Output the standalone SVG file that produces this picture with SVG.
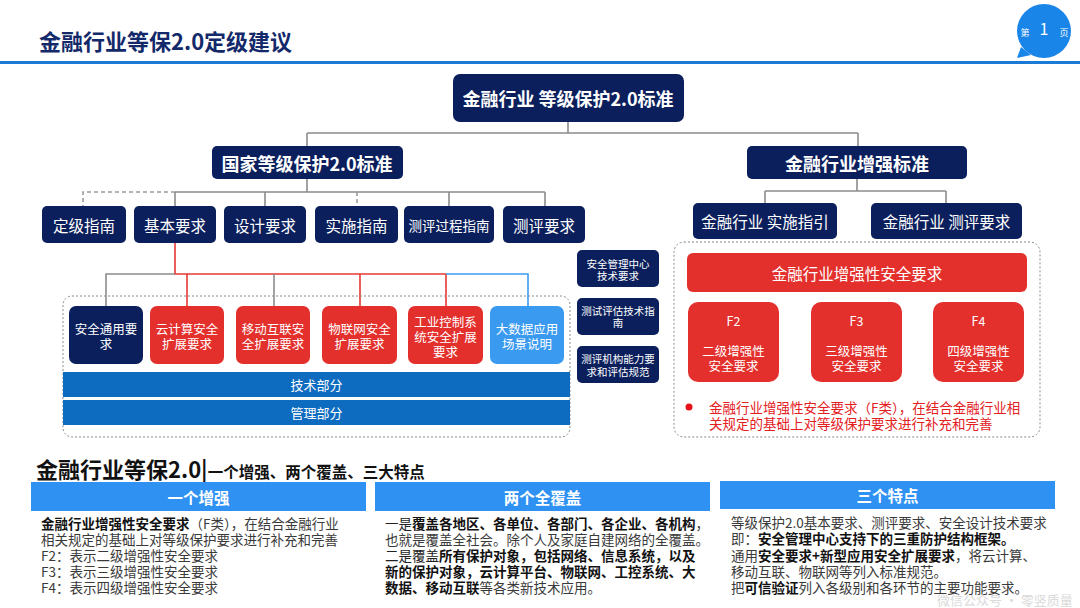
<svg xmlns="http://www.w3.org/2000/svg" width="1080" height="608" viewBox="0 0 1080 608">
<style>
text{font-family:"Noto Sans CJK SC","Noto Sans",sans-serif}
.nv{fill:#0b1f5c}
.rd{fill:#e3302d}
.lb{fill:#3a9af0}
.band{fill:#0e6cc0}
.hb{fill:#2f92f2}
.w{fill:#fff;text-anchor:middle;dominant-baseline:central}
.b{font-weight:bold}
.g{stroke:#8c8c8c;stroke-width:1.6;fill:none}
.gd{stroke:#9a9a9a;stroke-width:1.6;fill:none;stroke-dasharray:4 3}
.r{stroke:#e53935;stroke-width:1.6;fill:none}
.bl{stroke:#3c9cf0;stroke-width:1.6;fill:none}
.box{fill:none;stroke:#8a8a8a;stroke-width:1;stroke-dasharray:2 2}
.body{font-size:13.5px;fill:#3a3a3a;dominant-baseline:central}
.bd{font-weight:bold;fill:#111}
</style>
<rect width="1080" height="608" fill="#fff"/>

<g id="header">
<text x="39" y="50" font-size="22" font-weight="bold" fill="#13296a">金融行业等保2.0定级建议</text>
<rect x="0" y="61" width="1080" height="3" fill="#1a7ad6"/>
<path d="M1021,47 L1017,58 L1031,55 Z" fill="#1a85e8"/>
<circle cx="1044" cy="31" r="27" fill="#1a85e8"/>
<text x="1025" y="32" font-size="9" fill="#fff" text-anchor="middle" dominant-baseline="central">第</text>
<text x="1044" y="28" font-size="16" fill="#fff" text-anchor="middle" dominant-baseline="central" font-family="Roboto,sans-serif">1</text>
<text x="1064" y="32" font-size="9" fill="#fff" text-anchor="middle" dominant-baseline="central">页</text>
</g>

<g id="connectors">
<path class="g" d="M568,122 V133 M307,133 H858 M307,133 V146 M858,133 V146"/>
<path class="g" d="M307,178 V192 M175,192 H545 M175,192 V206 M265,192 V206 M449,192 V206 M545,192 V206"/>
<path class="gd" d="M175,192 H83 V206 M357,192 V206"/>
<path class="g" d="M857,178 V191 M765,191 H946 M765,191 V203 M946,191 V203"/>
<path class="r" d="M175,243 V274 H446 M187,274 V306 M360,274 V306 M446,274 V306"/>
<path class="g" d="M175,274 H106 V306 M274,274 V306"/>
<path class="bl" d="M446,274 H528 V306"/>
</g>

<g id="top-node">
<rect class="nv" x="453" y="74" width="231" height="48" rx="7"/>
<text class="w b" x="568" y="98" font-size="18">金融行业 等级保护2.0标准</text>
</g>
<g id="node-national">
<rect class="nv" x="212" y="146" width="191" height="33" rx="5"/>
<text class="w b" x="307" y="162.5" font-size="18">国家等级保护2.0标准</text>
</g>
<g id="node-finance">
<rect class="nv" x="747" y="146" width="220" height="33" rx="5"/>
<text class="w b" x="857" y="162.5" font-size="18">金融行业增强标准</text>
</g>

<g id="n-dingji"><rect class="nv" x="42" y="206" width="84" height="37" rx="5"/><text class="w" x="84" y="224.5" font-size="15.5">定级指南</text></g>
<g id="n-jiben"><rect class="nv" x="134" y="206" width="82" height="37" rx="5"/><text class="w" x="175" y="224.5" font-size="15.5">基本要求</text></g>
<g id="n-sheji"><rect class="nv" x="224" y="206" width="82" height="37" rx="5"/><text class="w" x="265" y="224.5" font-size="15.5">设计要求</text></g>
<g id="n-shishi"><rect class="nv" x="315" y="206" width="83" height="37" rx="5"/><text class="w" x="356.5" y="224.5" font-size="15.5">实施指南</text></g>
<g id="n-guocheng"><rect class="nv" x="404" y="206" width="90" height="37" rx="5"/><text class="w" x="449" y="224.5" font-size="13.5">测评过程指南</text></g>
<g id="n-ceping"><rect class="nv" x="503" y="206" width="82" height="37" rx="5"/><text class="w" x="544" y="224.5" font-size="15.5">测评要求</text></g>

<g id="n-f-shishi"><rect class="nv" x="693" y="203" width="144" height="36" rx="5"/><text class="w" x="765" y="221" font-size="15.5">金融行业 实施指引</text></g>
<g id="n-f-ceping"><rect class="nv" x="871" y="203" width="151" height="36" rx="5"/><text class="w" x="946.5" y="221" font-size="15.5">金融行业 测评要求</text></g>

<g id="basic-container">
<rect class="box" x="63" y="296" width="507" height="141" rx="9"/>
</g>
<g id="r-tongyong"><rect class="nv" x="69" y="306" width="74" height="58" rx="7"/><text class="w" font-size="12.5"><tspan x="106" y="328">安全通用要</tspan><tspan x="106" y="343">求</tspan></text></g>
<g id="r-yun"><rect class="rd" x="150" y="306" width="74" height="58" rx="7"/><text class="w" font-size="12.5"><tspan x="187" y="328">云计算安全</tspan><tspan x="187" y="343">扩展要求</tspan></text></g>
<g id="r-yidong"><rect class="rd" x="236" y="306" width="74" height="58" rx="7"/><text class="w" font-size="12.5"><tspan x="273" y="328">移动互联安</tspan><tspan x="273" y="343">全扩展要求</tspan></text></g>
<g id="r-wulian"><rect class="rd" x="322" y="306" width="75" height="58" rx="7"/><text class="w" font-size="12.5"><tspan x="359.5" y="328">物联网安全</tspan><tspan x="359.5" y="343">扩展要求</tspan></text></g>
<g id="r-gongkong"><rect class="rd" x="408" y="306" width="75" height="58" rx="7"/><text class="w" font-size="12.5"><tspan x="445.5" y="320.5">工业控制系</tspan><tspan x="445.5" y="335.5">统安全扩展</tspan><tspan x="445.5" y="350.5">要求</tspan></text></g>
<g id="r-dashuju"><rect class="lb" x="490" y="306" width="74" height="58" rx="7"/><text class="w" font-size="12.5"><tspan x="527" y="328">大数据应用</tspan><tspan x="527" y="343">场景说明</tspan></text></g>
<g id="band-tech"><rect class="band" x="63" y="372" width="507" height="25"/><text class="w" x="316.5" y="384.5" font-size="13">技术部分</text></g>
<g id="band-mgmt"><rect class="band" x="63" y="400" width="507" height="25"/><text class="w" x="316.5" y="412.5" font-size="13">管理部分</text></g>

<g id="s-center"><rect class="nv" x="577" y="250" width="82" height="37" rx="5"/><text class="w" font-size="10.5"><tspan x="618" y="263">安全管理中心</tspan><tspan x="618" y="275">技术要求</tspan></text></g>
<g id="s-test"><rect class="nv" x="577" y="298" width="82" height="37" rx="5"/><text class="w" font-size="10.5"><tspan x="618" y="310">测试评估技术指</tspan><tspan x="618" y="322">南</tspan></text></g>
<g id="s-org"><rect class="nv" x="577" y="346" width="82" height="37" rx="5"/><text class="w" font-size="10.5"><tspan x="618" y="358">测评机构能力要</tspan><tspan x="618" y="371">求和评估规范</tspan></text></g>

<g id="finance-container">
<rect class="box" x="674" y="242" width="366" height="195" rx="10"/>
</g>
<g id="f-banner"><rect class="rd" x="687" y="253" width="340" height="39" rx="6"/><text class="w" x="857" y="272.5" font-size="15.5">金融行业增强性安全要求</text></g>
<g id="f2"><rect class="rd" x="688" y="302" width="91" height="80" rx="10"/><text class="w" font-size="12.5"><tspan x="733.5" y="320">F2</tspan><tspan x="733.5" y="350">二级增强性</tspan><tspan x="733.5" y="365">安全要求</tspan></text></g>
<g id="f3"><rect class="rd" x="811" y="302" width="91" height="80" rx="10"/><text class="w" font-size="12.5"><tspan x="856.5" y="320">F3</tspan><tspan x="856.5" y="350">三级增强性</tspan><tspan x="856.5" y="365">安全要求</tspan></text></g>
<g id="f4"><rect class="rd" x="933" y="302" width="91" height="80" rx="10"/><text class="w" font-size="12.5"><tspan x="978.5" y="320">F4</tspan><tspan x="978.5" y="350">四级增强性</tspan><tspan x="978.5" y="365">安全要求</tspan></text></g>
<g id="f-note">
<circle cx="689" cy="407" r="3.5" fill="#e8101a"/>
<text font-size="13.5" fill="#e3201e" dominant-baseline="central"><tspan x="709" y="407">金融行业增强性安全要求（F类），在结合金融行业相</tspan><tspan x="709" y="423">关规定的基础上对等级保护要求进行补充和完善</tspan></text>
</g>

<g id="summary-heading">
<text x="36" y="478" font-weight="bold" fill="#111"><tspan font-size="22">金融行业等保2.0|</tspan><tspan font-size="15.5">一个增强、两个覆盖、三大特点</tspan></text>
</g>

<g id="col-1">
<rect class="hb" x="31" y="482" width="335" height="29"/>
<text class="w b" x="198.5" y="496.5" font-size="15.5">一个增强</text>
<text class="body" x="41" y="523"><tspan class="bd">金融行业增强性安全要求</tspan>（F类），在结合金融行业</text>
<text class="body" x="41" y="539">相关规定的基础上对等级保护要求进行补充和完善</text>
<text class="body" x="41" y="555">F2：表示二级增强性安全要求</text>
<text class="body" x="41" y="571">F3：表示三级增强性安全要求</text>
<text class="body" x="41" y="587">F4：表示四级增强性安全要求</text>
</g>

<g id="col-2">
<rect class="hb" x="375" y="482" width="335" height="29"/>
<text class="w b" x="542.5" y="496.5" font-size="15.5">两个全覆盖</text>
<text class="body" x="385" y="523"><tspan fill="#222">一是</tspan><tspan class="bd">覆盖各地区、各单位、各部门、各企业、各机构</tspan>，</text>
<text class="body" x="385" y="539">也就是覆盖全社会。除个人及家庭自建网络的全覆盖。</text>
<text class="body" x="385" y="555"><tspan fill="#222">二是覆盖</tspan><tspan class="bd">所有保护对象，包括网络、信息系统，以及</tspan></text>
<text class="body bd" x="385" y="571">新的保护对象，云计算平台、物联网、工控系统、大</text>
<text class="body" x="385" y="587"><tspan class="bd">数据、移动互联</tspan>等各类新技术应用。</text>
</g>

<g id="col-3">
<rect class="hb" x="720" y="481" width="335" height="28"/>
<text class="w b" x="887.5" y="495" font-size="15.5">三个特点</text>
<text class="body" x="731" y="522">等级保护2.0基本要求、测评要求、安全设计技术要求</text>
<text class="body" x="731" y="538">即：<tspan class="bd">安全管理中心支持下的三重防护结构框架。</tspan></text>
<text class="body" x="731" y="555">通用<tspan class="bd">安全要求+新型应用安全扩展要求</tspan>，将云计算、</text>
<text class="body" x="731" y="571">移动互联、物联网等列入标准规范。</text>
<text class="body" x="731" y="587">把<tspan class="bd">可信验证</tspan>列入各级别和各环节的主要功能要求。</text>
<text x="937" y="599" font-size="13" fill="#dadada" dominant-baseline="central">微信公众号 · 零竖质量</text>
</g>
</svg>
